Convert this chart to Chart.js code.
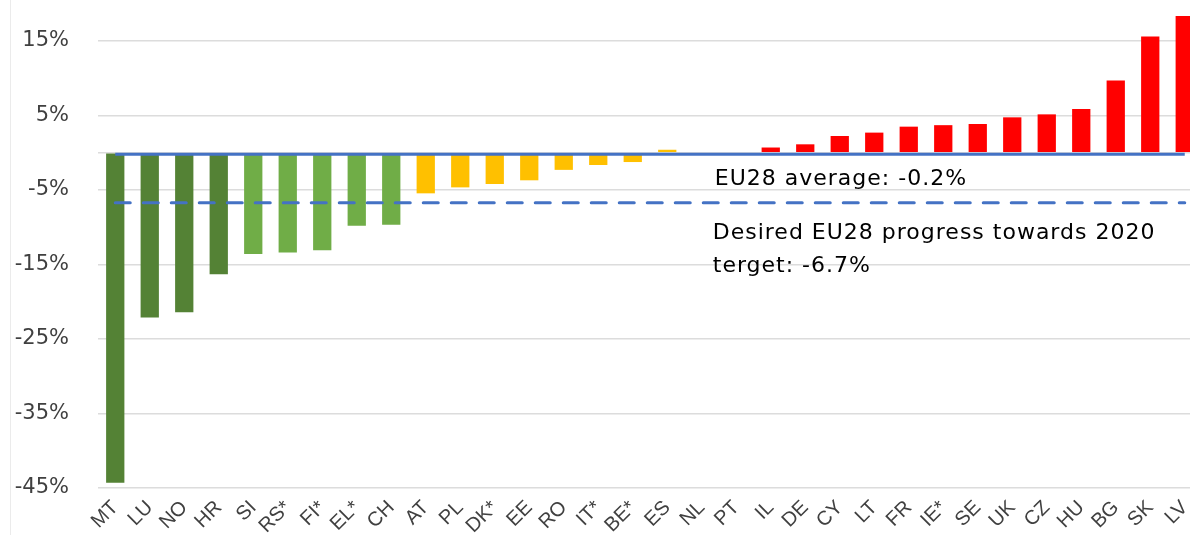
<!DOCTYPE html>
<html><head><meta charset="utf-8">
<script src="https://cdn.jsdelivr.net/npm/chart.js@4"></script>
<style>
html,body{margin:0;padding:0;overflow:hidden;background:#fff;width:1190px;height:535px}
#wrap{width:1202px;height:535px;position:relative}
canvas{display:block}
</style></head>
<body><div id="wrap"><canvas id="c" width="1202" height="535"></canvas></div>
<script>
const categories = ['MT','LU','NO','HR','SI','RS*','FI*','EL*','CH','AT','PL','DK*','EE','RO','IT*','BE*','ES','NL','PT','IL','DE','CY','LT','FR','IE*','SE','UK','CZ','HU','BG','SK','LV'];
const changes = [-44.3,-22.1,-21.4,-16.3,-13.6,-13.4,-13.1,-9.8,-9.65,-5.45,-4.65,-4.2,-3.7,-2.3,-1.65,-1.25,0.4,0,0,0.7,1.13,2.25,2.7,3.5,3.7,3.86,4.75,5.15,5.87,9.7,15.6,18.35];
const groups = ['strong','strong','strong','strong','good','good','good','good','good','mid','mid','mid','mid','mid','mid','mid','mid','mid','mid','up','up','up','up','up','up','up','up','up','up','up','up','up'];
const eu28Average = -0.2;
const targetProgress = -6.7;
const yTicks = [-45,-35,-25,-15,-5,0,5,15];
const avgLabel = 'EU28 average: -0.2%';
const targetLabel = ['Desired EU28 progress towards 2020', 'terget: -6.7%'];

const groupColors = {strong:'#548235', good:'#70AD47', mid:'#FFC000', up:'#FF0000'};

const annot = {
  id:'annot',
  beforeDraw(chart){
    const ctx = chart.ctx;
    ctx.save();
    ctx.strokeStyle = '#EBEBEB';
    ctx.lineWidth = 1;
    ctx.beginPath(); ctx.moveTo(10.5,0); ctx.lineTo(10.5,535); ctx.stroke();
    ctx.restore();
  },
  afterDatasetsDraw(chart){
    const ctx = chart.ctx, xs = chart.scales.x, ys = chart.scales.y;
    ctx.save();
    ctx.fillStyle = '#000';
    ctx.font = '22px "DejaVu Sans"';
    try { ctx.letterSpacing = '1px'; } catch(e) {}
    ctx.textAlign = 'left';
    ctx.textBaseline = 'alphabetic';
    const x0 = xs.getPixelForValue(17) + 11;
    ctx.fillText(avgLabel, x0 + 2, ys.getPixelForValue(eu28Average) + 31);
    const ty = ys.getPixelForValue(targetProgress);
    ctx.fillText(targetLabel[0], x0, ty + 36.5);
    ctx.fillText(targetLabel[1], x0, ty + 69.5);
    ctx.restore();
  }
};

new Chart(document.getElementById('c'), {
  data: {
    labels: categories,
    datasets: [
      {type:'line', data: categories.map(()=>eu28Average), borderColor:'#4472C4', borderWidth:3, pointRadius:0, order:0, fill:false},
      {type:'line', data: categories.map(()=>targetProgress), borderColor:'#4472C4', borderWidth:3, borderDash:[15,13], borderCapStyle:'round', pointRadius:0, order:0, fill:false},
      {type:'bar', data: changes, backgroundColor: groups.map(g=>groupColors[g]), barPercentage:0.53, categoryPercentage:1, order:1}
    ]
  },
  options: {
    responsive:false, animation:false, devicePixelRatio:1,
    layout:{padding:0},
    plugins:{legend:{display:false}, tooltip:{enabled:false}},
    scales:{
      x:{
        grid:{display:false, drawTicks:false},
        border:{display:false},
        ticks:{autoSkip:false, maxRotation:45, minRotation:45, padding:8, color:'#404040', font:{family:'"Liberation Sans"', size:20}},
        afterFit(s){ s.height = 47; s.paddingLeft = 0; s.paddingRight = 0; s.paddingTop = 0; s.paddingBottom = 0; }
      },
      y:{
        min:-45, max:20.5,
        grid:{color:'#DCDCDC', lineWidth:1.5, drawTicks:false},
        border:{display:false},
        ticks:{padding:29, color:'#404040', font:{family:'"DejaVu Sans"', size:21}, callback:v=> v===0 ? '' : v + '%'},
        afterBuildTicks(s){ s.ticks = yTicks.map(v=>({value:v})); },
        afterFit(s){ s.width = 98; s.paddingTop = 0; s.paddingBottom = 0; s.paddingLeft = 0; s.paddingRight = 0; }
      }
    }
  },
  plugins:[annot]
});
</script>
</body></html>
